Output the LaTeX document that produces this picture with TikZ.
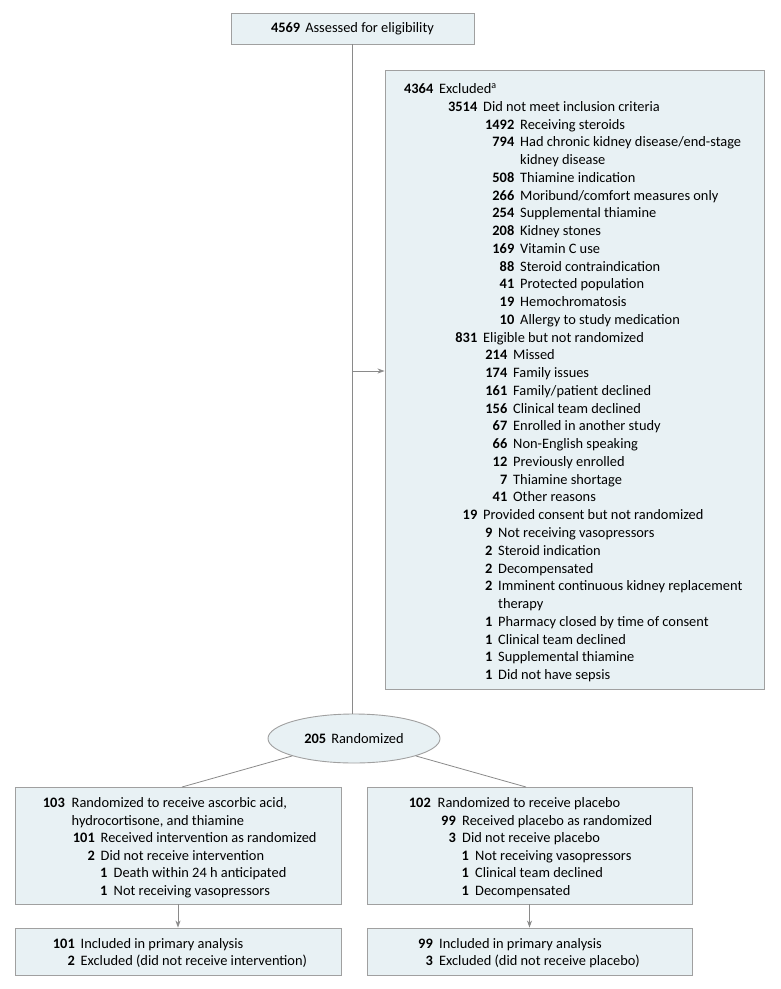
\documentclass[tikz,border=0pt]{standalone}
\usepackage{fontspec}
\setmainfont{Carlito}
\usetikzlibrary{shapes.geometric,arrows.meta}
\definecolor{bfill}{HTML}{E8F1F4}
\definecolor{bdraw}{HTML}{A0A0A0}
\definecolor{lcol}{HTML}{8A8A8A}
\tikzset{
  bodytxt/.style={inner sep=0pt, font=\fontsize{14.4}{17.8}\selectfont},
  numtxt/.style={inner sep=0pt, font=\fontsize{14.4}{17.8}\selectfont\bfseries},
  boxst/.style={draw=bdraw, fill=bfill, line width=0.9pt, inner sep=0pt, rectangle},
  conn/.style={draw=lcol, line width=0.8pt},
  arr/.style={conn, -{Stealth[length=7pt,width=5pt]}, color=lcol},
}
% name, number right x, text x, baseline y, number, text
\newcommand\mkrow[6]{%
  \node[numtxt, anchor=base east] (#1n) at ({#2},{#4}) {#5};
  \node[bodytxt, anchor=base west] (#1t) at ({#3},{#4}) {#6};}
% name, text x, baseline y, text
\newcommand\mkcont[4]{%
  \node[bodytxt, anchor=base west] (#1t) at ({#2},{#3}) {#4};}
% excluded box rows: name, index, text x, number, text
\newcommand\exrow[5]{\mkrow{#1}{#3-5.5}{#3}{93.5+17.76*#2}{#4}{#5}}
\newcommand\excont[4]{\mkcont{#1}{#3}{93.5+17.76*#2}{#4}}
\begin{document}
\begin{tikzpicture}[x=1pt,y=-1pt]
\useasboundingbox (0,0) rectangle (780,989);
% top box
\node[boxst, minimum width=243pt, minimum height=31pt] (top) at (352.5,28.5)
  {\fontsize{14.4}{17.8}\selectfont\textbf{4569}\hspace{5pt}Assessed for eligibility};
% excluded box
\node[boxst, minimum width=379pt, minimum height=619pt] (ex) at (574.5,379.5) {};
% randomized ellipse
\node[ellipse, draw=bdraw, fill=bfill, line width=0.9pt, inner sep=0pt,
      minimum width=172pt, minimum height=49pt] (ell) at (354,738.5)
  {\fontsize{14.4}{17.8}\selectfont\textbf{205}\hspace{5pt}Randomized};
% arm boxes
\node[boxst, minimum width=326pt, minimum height=117pt] (lbox) at (178,845.5) {};
\node[boxst, minimum width=325pt, minimum height=117pt] (rbox) at (529.5,845.5) {};
\node[boxst, minimum width=326pt, minimum height=47pt] (lfin) at (178,951.5) {};
\node[boxst, minimum width=325pt, minimum height=47pt] (rfin) at (529.5,951.5) {};
% connectors
\coordinate (brk) at (352.5,371);
\draw[conn] (top.south) -- (top.south |- ell.north);
\draw[arr] (brk) -- (brk -| ex.west);
\coordinate (lend) at (182,787);
\coordinate (rend) at (526,787);
\draw[conn] (ell) -- (lend);
\draw[conn] (ell) -- (rend);
\draw[arr] (lbox.south) -- (lfin.north);
\draw[arr] (rbox.south) -- (rfin.north);
% excluded rows
\exrow{e0}{0}{439}{4364}{Excluded\textsuperscript{a}}
\exrow{e1}{1}{483}{3514}{Did not meet inclusion criteria}
\exrow{e2}{2}{520}{1492}{Receiving steroids}
\exrow{e3}{3}{520}{794}{Had chronic kidney disease/end-stage}
\excont{e4}{4}{520}{kidney disease}
\exrow{e5}{5}{520}{508}{Thiamine indication}
\exrow{e6}{6}{520}{266}{Moribund/comfort measures only}
\exrow{e7}{7}{520}{254}{Supplemental thiamine}
\exrow{e8}{8}{520}{208}{Kidney stones}
\exrow{e9}{9}{520}{169}{Vitamin C use}
\exrow{e10}{10}{520}{88}{Steroid contraindication}
\exrow{e11}{11}{520}{41}{Protected population}
\exrow{e12}{12}{520}{19}{Hemochromatosis}
\exrow{e13}{13}{520}{10}{Allergy to study medication}
\exrow{e14}{14}{483}{831}{Eligible but not randomized}
\exrow{e15}{15}{513}{214}{Missed}
\exrow{e16}{16}{513}{174}{Family issues}
\exrow{e17}{17}{513}{161}{Family/patient declined}
\exrow{e18}{18}{513}{156}{Clinical team declined}
\exrow{e19}{19}{513}{67}{Enrolled in another study}
\exrow{e20}{20}{513}{66}{Non-English speaking}
\exrow{e21}{21}{513}{12}{Previously enrolled}
\exrow{e22}{22}{513}{7}{Thiamine shortage}
\exrow{e23}{23}{513}{41}{Other reasons}
\exrow{e24}{24}{483}{19}{Provided consent but not randomized}
\exrow{e25}{25}{498}{9}{Not receiving vasopressors}
\exrow{e26}{26}{498}{2}{Steroid indication}
\exrow{e27}{27}{498}{2}{Decompensated}
\exrow{e28}{28}{498}{2}{Imminent continuous kidney replacement}
\excont{e29}{29}{498}{therapy}
\exrow{e30}{30}{498}{1}{Pharmacy closed by time of consent}
\exrow{e31}{31}{498}{1}{Clinical team declined}
\exrow{e32}{32}{498}{1}{Supplemental thiamine}
\exrow{e33}{33}{498}{1}{Did not have sepsis}
% left arm
\mkrow{l0}{65}{71.5}{807.5}{103}{Randomized to receive ascorbic acid,}
\mkcont{l1}{71.5}{825.1}{hydrocortisone, and thiamine}
\mkrow{l2}{95}{100.5}{842.7}{101}{Received intervention as randomized}
\mkrow{l3}{95}{100.5}{860.3}{2}{Did not receive intervention}
\mkrow{l4}{107.5}{113.5}{877.9}{1}{Death within 24 h anticipated}
\mkrow{l5}{107.5}{113.5}{895.5}{1}{Not receiving vasopressors}
% right arm
\mkrow{r0}{431}{437.5}{807.5}{102}{Randomized to receive placebo}
\mkrow{r1}{456}{462}{825.1}{99}{Received placebo as randomized}
\mkrow{r2}{456}{462}{842.7}{3}{Did not receive placebo}
\mkrow{r3}{469}{475}{860.3}{1}{Not receiving vasopressors}
\mkrow{r4}{469}{475}{877.9}{1}{Clinical team declined}
\mkrow{r5}{469}{475}{895.5}{1}{Decompensated}
% final boxes
\mkrow{f0}{75}{80.5}{948.5}{101}{Included in primary analysis}
\mkrow{f1}{75}{80.5}{965.5}{2}{Excluded (did not receive intervention)}
\mkrow{g0}{433}{439}{948.5}{99}{Included in primary analysis}
\mkrow{g1}{433}{439}{965.5}{3}{Excluded (did not receive placebo)}
\end{tikzpicture}
\end{document}
